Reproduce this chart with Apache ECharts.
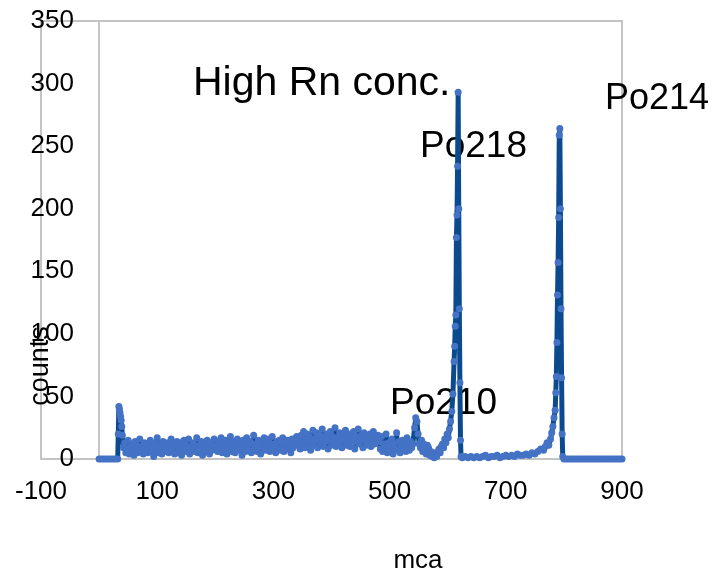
<!DOCTYPE html>
<html>
<head>
<meta charset="utf-8">
<script src="https://cdn.jsdelivr.net/npm/echarts@6/dist/echarts.min.js"></script>
<style>
  html, body { margin: 0; padding: 0; background: #fff; }
  #chart { width: 717px; height: 576px; }
</style>
</head>
<body>
<div id="chart"></div>
<script>
// tick labels
const xTicks = [-100, 100, 300, 500, 700, 900];
const yTicks = [0, 50, 100, 150, 200, 250, 300, 350];

// empty channels before the threshold
const lowFlatCh = [0, 4, 8, 12, 16, 20, 24, 28, 32];
const lowFlatCounts = [0, 0, 0, 0, 0, 0, 0, 0, 0];

// threshold spike
const rampCh = [33, 34, 35, 36, 37, 38, 39, 40];
const rampCounts = [20, 42, 40, 37, 34, 31, 26, 19];

// noisy continuum, every 2nd channel from 42 to 540
const bandStart = 42;
const bandStep = 2;
const bandCounts = [
  9, 13, 5, 8, 15, 4, 10, 7, 12, 3, 14, 8, 5, 10, 16, 6, 9, 4, 13, 8,
  12, 5, 9, 15, 6, 10, 2, 13, 8, 17, 5, 9, 12, 4, 14, 7, 11, 6, 13, 5,
  9, 16, 6, 12, 4, 10, 14, 5, 8, 13, 3, 9, 15, 6, 11, 7, 16, 4, 10, 8,
  13, 6, 9, 17, 5, 11, 8, 14, 3, 10, 12, 6, 15, 9, 4, 13, 7, 11, 16, 8,
  10, 6, 14, 9, 17, 5, 12, 8, 15, 4, 13, 9, 18, 6, 10, 14, 5, 11, 16, 7,
  13, 8, 3, 15, 10, 6, 17, 12, 7, 14, 5, 12, 19, 8, 11, 6, 15, 10, 4, 14,
  9, 17, 7, 13, 10, 16, 6, 12, 18, 8, 11, 5, 14, 9, 15, 7, 12, 17, 6, 13,
  10, 15, 8, 12, 5, 16, 9, 14, 11, 18,
  12, 17, 8, 19, 13, 22, 9, 15, 20, 10, 18, 7, 14, 23, 11, 16, 21, 9, 15, 19,
  12, 24, 10, 17, 14, 20, 8, 16, 22, 11, 18, 14, 25, 10, 17, 12, 21, 14, 9, 19,
  16, 23, 11, 15, 20, 10, 17, 13, 22, 8, 18, 14, 24, 12, 16, 19, 9, 21, 15, 11,
  18, 13, 20, 10, 16, 22, 12, 17, 14, 19,
  14, 8, 18, 6, 12, 9, 20, 5, 13, 7, 11, 16, 4, 12, 8, 21, 7, 14, 5, 11,
  15, 9, 13, 6, 17, 10, 7, 14, 9, 12
];

// Po210 bump
const po210Ch = [543, 545, 547, 549, 551];
const po210Counts = [25, 33, 30, 20, 12];

// dip before Po218, every 2nd channel from 553
const tailStart = 553;
const tailStep = 2;
const tailCounts = [9, 15, 6, 12, 8, 4, 11, 9, 3, 6, 2, 5, 1, 4, 2, 6, 8, 5, 10];

// Po218 peak
const po218Ch = [591, 593, 595, 597, 599, 601, 603, 605, 607, 609, 611, 612, 613, 614, 615, 616, 617, 618, 619, 620, 621, 622, 623];
const po218Counts = [12, 9, 16, 13, 20, 17, 24, 30, 38, 52, 78, 90, 106, 115, 177, 195, 234, 293, 200, 120, 61, 15, 2];

// valley between peaks, every 5th channel from 625
const gapStart = 625;
const gapStep = 5;
const gapCounts = [1, 2, 1, 2, 1, 2, 1, 2, 3, 1, 2, 2, 3, 1, 2, 3, 2, 3, 2, 4, 3, 3, 4, 3, 5, 4, 6, 8, 7];

// Po214 peak
const po214Ch = [768, 771, 774, 777, 779, 781, 783, 785, 786, 787, 788, 789, 790, 791, 792, 793, 794, 795, 796, 797, 798];
const po214Counts = [10, 13, 11, 16, 21, 26, 33, 39, 53, 66, 93, 131, 157, 193, 259, 264, 200, 120, 65, 20, 2];

// empty channels after Po214, every 4th channel from 800
const highStart = 800;
const highStep = 4;
const highCounts = [0, 0, 0, 0, 0, 0, 0, 0, 0, 0, 0, 0, 0, 0, 0, 0, 0, 0, 0, 0, 0, 0, 0, 0, 0, 0];

function pairs(chs, counts) {
  return counts.map(function (c, i) { return [chs[i], c]; });
}
function stepPairs(start, step, counts) {
  return counts.map(function (c, i) { return [start + i * step, c]; });
}

let spectrum = []
  .concat(pairs(lowFlatCh, lowFlatCounts))
  .concat(pairs(rampCh, rampCounts))
  .concat(stepPairs(bandStart, bandStep, bandCounts))
  .concat(pairs(po210Ch, po210Counts))
  .concat(stepPairs(tailStart, tailStep, tailCounts))
  .concat(pairs(po218Ch, po218Counts))
  .concat(stepPairs(gapStart, gapStep, gapCounts))
  .concat(pairs(po214Ch, po214Counts))
  .concat(stepPairs(highStart, highStep, highCounts));

const font = '"Liberation Sans", Arial, sans-serif';
const gridColor = '#c4c4c4';

let myChart = echarts.init(document.getElementById('chart'));
let option = {
  animation: false,
  grid: {
    left: 41, right: 95, top: 21, bottom: 117,
    containLabel: false,
    outerBoundsMode: 'none',
    show: true, borderColor: gridColor, borderWidth: 2
  },
  xAxis: {
    type: 'value',
    min: xTicks[0],
    max: xTicks[xTicks.length - 1],
    interval: 200,
    axisLine: { onZero: true, lineStyle: { color: gridColor, width: 2 } },
    axisTick: { show: false },
    splitLine: { show: false },
    axisLabel: { fontSize: 26, color: '#000', margin: 20, fontFamily: font },
    name: 'mca',
    nameLocation: 'middle',
    nameGap: 89,
    nameMoveOverlap: false,
    nameTextStyle: { fontSize: 26, color: '#000', fontFamily: font, padding: [0, 0, 0, 173] }
  },
  yAxis: {
    type: 'value',
    min: yTicks[0],
    max: yTicks[yTicks.length - 1],
    interval: 50,
    axisLine: { show: true, onZero: true, lineStyle: { color: gridColor, width: 2 } },
    axisTick: { show: false },
    splitLine: { show: false },
    // labels sit left of the x = 0 line, overlapping the plot border
    axisLabel: { fontSize: 26, color: '#000', margin: -33, fontFamily: font },
    name: 'counts',
    nameLocation: 'middle',
    nameRotate: 90,
    nameGap: -13,
    nameMoveOverlap: false,
    nameTextStyle: { fontSize: 27, color: '#000', fontFamily: font, padding: [0, 252, 0, 0] }
  },
  series: [{
    type: 'line',
    data: spectrum,
    symbol: 'circle',
    symbolSize: 7,
    showSymbol: true,
    showAllSymbol: true,
    lineStyle: { color: '#0b4a8e', width: 5 },
    itemStyle: { color: '#4472c4' },
    z: 3
  }],
  // text boxes placed on the chart
  graphic: [
    { type: 'text', left: 193, top: 63, style: { text: 'High Rn conc.', font: '41px ' + font, fill: '#000' } },
    { type: 'text', left: 420, top: 128, style: { text: 'Po218', font: '37px ' + font, fill: '#000' } },
    { type: 'text', left: 605, top: 81, style: { text: 'Po214', font: '36px ' + font, fill: '#000' } },
    { type: 'text', left: 390, top: 385, style: { text: 'Po210', font: '37px ' + font, fill: '#000' } }
  ]
};
myChart.setOption(option);
</script>
</body>
</html>
